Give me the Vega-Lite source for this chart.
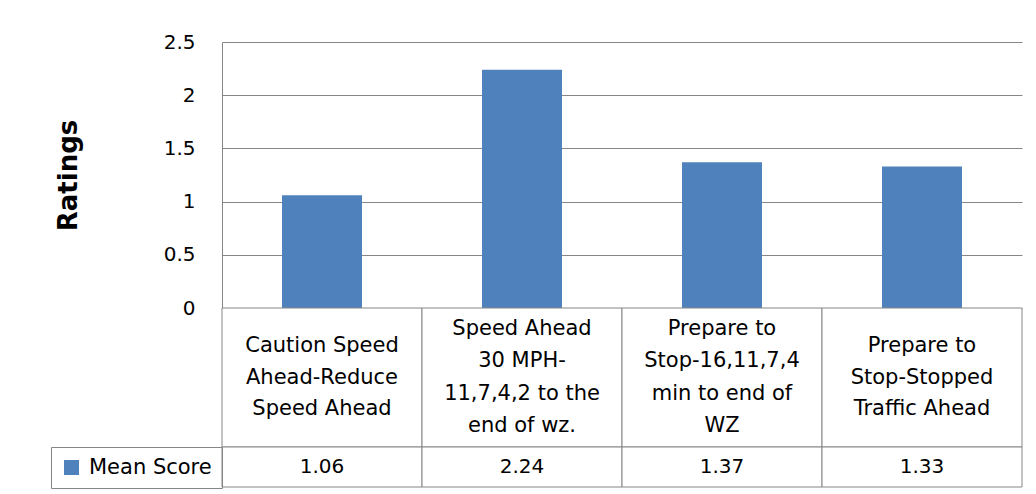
{
  "$schema": "https://vega.github.io/schema/vega-lite/v6.json",
  "background": "white",
  "padding": {"left": 50, "top": 32, "right": 14, "bottom": 6},
  "config": {
    "font": "DejaVu Sans",
    "view": {"stroke": null},
    "axis": {"labelColor": "black", "titleColor": "black"}
  },
  "datasets": {
    "scores": [
      {"sign": "Caution Speed\nAhead-Reduce\nSpeed Ahead", "score": 1.06, "series": "Mean Score"},
      {"sign": "Speed Ahead\n30 MPH-\n11,7,4,2 to the\nend of wz.", "score": 2.24, "series": "Mean Score"},
      {"sign": "Prepare to\nStop-16,11,7,4\nmin to end of\nWZ", "score": 1.37, "series": "Mean Score"},
      {"sign": "Prepare to\nStop-Stopped\nTraffic Ahead", "score": 1.33, "series": "Mean Score"}
    ]
  },
  "data": {"name": "scores"},
  "bounds": "flush",
  "spacing": 0,
  "resolve": {"scale": {"color": "independent"}, "legend": {"color": "independent"}},
  "vconcat": [
    {
      "width": 800,
      "height": 266,
      "mark": {"type": "bar", "color": "#4F81BD", "width": {"band": 0.4}},
      "encoding": {
        "x": {"field": "sign", "type": "nominal", "sort": null, "axis": null,
              "scale": {"paddingInner": 0, "paddingOuter": 0}},
        "y": {"field": "score", "type": "quantitative",
              "scale": {"domain": [0, 2.5], "nice": false, "zero": true},
              "axis": {"title": "Ratings", "values": [0, 0.5, 1, 1.5, 2, 2.5], "format": "~g",
                       "ticks": false, "labelPadding": 27, "labelFontSize": 20,
                       "grid": true, "gridColor": "#868686", "gridWidth": 1,
                       "domainColor": "#868686", "domainWidth": 1,
                       "titleFontSize": 26, "titleFontWeight": "bold", "titlePadding": 82}}
      }
    },
    {
      "width": 800,
      "height": 139,
      "layer": [
        {
          "mark": {"type": "rect", "fill": "white", "stroke": "#868686", "strokeWidth": 1},
          "encoding": {
            "x": {"field": "sign", "type": "nominal", "sort": null, "axis": null,
                  "scale": {"paddingInner": 0, "paddingOuter": 0}}
          }
        },
        {
          "transform": [{"filter": "length(split(datum.sign, '\\n')) == 3"}],
          "mark": {"type": "text", "fontSize": 21, "lineBreak": "\n", "lineHeight": 31.5, "dy": -31.5,
                   "baseline": "middle", "align": "center", "color": "black"},
          "encoding": {
            "x": {"field": "sign", "type": "nominal", "sort": null, "axis": null,
                  "scale": {"paddingInner": 0, "paddingOuter": 0}},
            "text": {"field": "sign", "type": "nominal"}
          }
        },
        {
          "transform": [{"filter": "length(split(datum.sign, '\\n')) == 4"}],
          "mark": {"type": "text", "fontSize": 21, "lineBreak": "\n", "lineHeight": 32.5, "dy": -48.75,
                   "baseline": "middle", "align": "center", "color": "black"},
          "encoding": {
            "x": {"field": "sign", "type": "nominal", "sort": null, "axis": null,
                  "scale": {"paddingInner": 0, "paddingOuter": 0}},
            "text": {"field": "sign", "type": "nominal"}
          }
        }
      ]
    },
    {
      "width": 800,
      "height": 40,
      "layer": [
        {
          "mark": {"type": "rect", "fill": "white", "stroke": "#868686", "strokeWidth": 1},
          "encoding": {
            "x": {"field": "sign", "type": "nominal", "sort": null, "axis": null,
                  "scale": {"paddingInner": 0, "paddingOuter": 0}}
          }
        },
        {
          "mark": {"type": "text", "fontSize": 20, "baseline": "middle", "align": "center", "color": "black"},
          "encoding": {
            "x": {"field": "sign", "type": "nominal", "sort": null, "axis": null,
                  "scale": {"paddingInner": 0, "paddingOuter": 0}},
            "text": {"field": "score", "type": "quantitative", "format": ".2f"}
          }
        },
        {
          "data": {"values": []},
          "mark": {"type": "bar"},
          "encoding": {
            "x": {"field": "sign", "type": "nominal", "sort": null, "axis": null,
                  "scale": {"paddingInner": 0, "paddingOuter": 0}},
            "color": {"field": "series", "type": "nominal",
                      "scale": {"domain": ["Mean Score"], "range": ["#4F81BD"]},
                      "legend": {"orient": "left", "offset": 0, "title": null,
                                 "symbolType": "square", "symbolSize": 225, "symbolStrokeWidth": 0,
                                 "labelFontSize": 21, "labelColor": "black", "labelOffset": 7,
                                 "labelLimit": 300, "padding": 10, "strokeColor": "#868686"}}
          }
        }
      ]
    }
  ]
}
